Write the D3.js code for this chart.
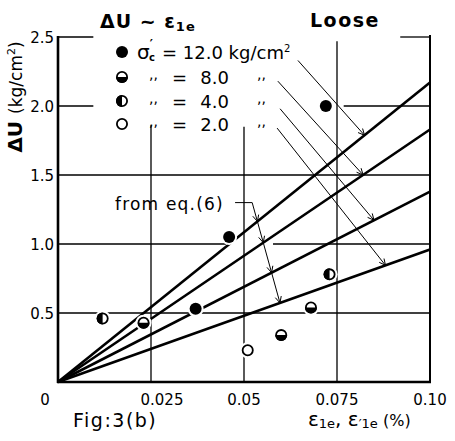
<!DOCTYPE html>
<html lang="en">
<head>
<meta charset="utf-8">
<title>Fig.3(b) ΔU ~ ε1e Loose</title>
<script src="https://d3js.org/d3.v7.min.js"></script>
<style>
body {
    margin: 0;
    background-color: #ffffff;
    font-family: "DejaVu Sans", sans-serif;
    color: #000000;
}
.grid line { stroke: #000; stroke-width: 1.3; }
.eqline { stroke: #000; stroke-width: 2.6; fill: none; }
.leader { stroke: #000; stroke-width: 1; fill: none; }
text { fill: #000; }
</style>
</head>
<body>
<svg width="455" height="441"></svg>
<script>

// confining pressure sigma'c (kg/cm2) for each symbol
var sigmaLevels = [12.0, 8.0, 4.0, 2.0];
var sigmaSymbols = ["full", "bottom", "left", "open"];

// measured points [strain %, dU kg/cm2]
var points12 = [[0.037, 0.53], [0.046, 1.05], [0.072, 2.0]];
var points8  = [[0.023, 0.43], [0.060, 0.34], [0.068, 0.54]];
var points4  = [[0.012, 0.46], [0.073, 0.78]];
var points2  = [[0.051, 0.23]];

// eq.(6) straight lines: dU reached at strain 0.10 for 12, 8, 4, 2 kg/cm2
var eqLineEnds = [2.17, 1.83, 1.38, 0.96];

var xTicks = [0.025, 0.05, 0.075, 0.10];
var xTickLabels = ["0.025", "0.05", "0.075", "0.10"];
var yTicks = [0.5, 1.0, 1.5, 2.0, 2.5];
var yTickLabels = ["0.5", "1.0", "1.5", "2.0", "2.5"];

var svg = d3.select("svg");

var x = d3.scaleLinear().domain([0, 0.1]).range([58, 430]);
var y = d3.scaleLinear().domain([0, 2.5]).range([382, 37]);

// grid pieces are broken where the legend and the points sit
var hGrid = [
  {v: 2.5, parts: [[0, 0.0095], [0.092, 0.1]]},
  {v: 2.0, parts: [[0, 0.0095], [0.0768, 0.1]]},
  {v: 1.5, parts: [[0, 0.1]]},
  {v: 1.0, parts: [[0, 0.0452], [0.0578, 0.1]]},
  {v: 0.5, parts: [[0, 0.1]]}
];
var vGrid = [
  {v: 0.025, top: 1.86},
  {v: 0.05, top: 1.85},
  {v: 0.075, top: 2.47},
  {v: 0.10, top: 2.515}
];

var grid = svg.append("g").attr("class", "grid");
hGrid.forEach(function(h) {
  h.parts.forEach(function(p) {
    grid.append("line")
      .attr("x1", x(p[0])).attr("x2", x(p[1]))
      .attr("y1", y(h.v)).attr("y2", y(h.v));
  });
});
vGrid.forEach(function(g) {
  grid.append("line")
    .attr("x1", x(g.v)).attr("x2", x(g.v))
    .attr("y1", y(0)).attr("y2", y(g.top))
    .style("stroke-width", g.v === 0.10 ? 2 : 1.3);
});

// axes (left and bottom heavy)
svg.append("line")
  .attr("x1", x(0)).attr("x2", x(0)).attr("y1", y(0) + 1).attr("y2", y(2.5) - 1)
  .attr("stroke", "#000").attr("stroke-width", 2.6);
svg.append("line")
  .attr("x1", x(0) - 1).attr("x2", x(0.1) + 1).attr("y1", y(0)).attr("y2", y(0))
  .attr("stroke", "#000").attr("stroke-width", 2.6);

// tick labels
svg.selectAll(".ytl").data(yTicks).enter().append("text")
  .attr("class", "ytl")
  .attr("x", 54).attr("y", function(d) { return y(d) + 1; })
  .attr("dy", "0.35em")
  .attr("text-anchor", "end")
  .style("font-size", "15px")
  .text(function(d, i) { return yTickLabels[i]; });

svg.selectAll(".xtl").data(xTicks).enter().append("text")
  .attr("class", "xtl")
  .attr("x", function(d, i) { return x(d) + (i === 0 ? 11 : 0); })
  .attr("y", 405)
  .attr("text-anchor", "middle")
  .style("font-size", "15px")
  .text(function(d, i) { return xTickLabels[i]; });

svg.append("text").attr("x", 45).attr("y", 405)
  .attr("text-anchor", "middle").style("font-size", "15px").text("0");

// eq.(6) lines
var eqLines = svg.append("g");
eqLineEnds.forEach(function(e) {
  eqLines.append("line").attr("class", "eqline")
    .attr("x1", x(0)).attr("y1", y(0))
    .attr("x2", x(0.1)).attr("y2", y(e));
});

// arrowhead helper (open V)
function arrowHead(g, px, py, ang) {
  var len = 7, spread = 0.45;
  [ang + Math.PI - spread, ang + Math.PI + spread].forEach(function(a) {
    g.append("line").attr("class", "leader")
      .attr("x1", px).attr("y1", py)
      .attr("x2", px + len * Math.cos(a)).attr("y2", py + len * Math.sin(a));
  });
}

// where the straight segment a->b (data units) meets eq line k
function meet(a, b, k) {
  var s = eqLineEnds[k] / 0.1;
  var dx = b[0] - a[0], dy = b[1] - a[1];
  var t = (s * a[0] - a[1]) / (dy - s * dx);
  return [a[0] + t * dx, a[1] + t * dy];
}

var leaders = svg.append("g");

// legend leaders: from legend rows to their own line
var legendStarts = [[0.0645, 2.33], [0.0591, 2.18], [0.0597, 1.98], [0.0589, 1.84]];
var legendDirs = [[0.0175, -0.53], [0.0226, -0.67], [0.025, -0.80], [0.029, -0.99]];
legendStarts.forEach(function(st, k) {
  var far = [st[0] + legendDirs[k][0], st[1] + legendDirs[k][1]];
  var end = meet(st, far, k);
  leaders.append("line").attr("class", "leader")
    .attr("x1", x(st[0])).attr("y1", y(st[1]))
    .attr("x2", x(end[0])).attr("y2", y(end[1]));
  var ang = Math.atan2(y(end[1]) - y(st[1]), x(end[0]) - x(st[0]));
  arrowHead(leaders, x(end[0]), y(end[1]), ang);
});

// "from eq.(6)" leader
var eqA = [0.0476, 1.30], eqB = [0.0522, 1.30], eqDir = [0.0597, 0.57];
var eqEnd = meet(eqB, eqDir, 3);
leaders.append("path").attr("class", "leader")
  .attr("d", d3.line()([[x(eqA[0]), y(eqA[1])], [x(eqB[0]), y(eqB[1])], [x(eqEnd[0]), y(eqEnd[1])]]));
var eqAng = Math.atan2(y(eqEnd[1]) - y(eqB[1]), x(eqEnd[0]) - x(eqB[0]));
[0, 1, 2, 3].forEach(function(k) {
  var p = meet(eqB, eqDir, k);
  arrowHead(leaders, x(p[0]), y(p[1]), eqAng);
});

svg.append("text").attr("x", 115).attr("y", 210)
  .style("font-size", "17px").style("letter-spacing", "1.2px").text("from eq.(6)");

// symbols
function drawSymbol(g, cx, cy, kind, r) {
  g.append("circle").attr("cx", cx).attr("cy", cy).attr("r", r + 2)
    .attr("fill", "#fff");
  if (kind === "full") {
    g.append("circle").attr("cx", cx).attr("cy", cy).attr("r", r).attr("fill", "#000");
    return;
  }
  g.append("circle").attr("cx", cx).attr("cy", cy).attr("r", r - 0.9)
    .attr("fill", "#fff").attr("stroke", "#000").attr("stroke-width", 1.8);
  if (kind === "bottom") {
    g.append("path").attr("fill", "#000")
      .attr("d", "M" + (cx - r) + "," + cy + " A" + r + "," + r + " 0 0 0 " + (cx + r) + "," + cy + " Z");
  } else if (kind === "left") {
    g.append("path").attr("fill", "#000")
      .attr("d", "M" + cx + "," + (cy - r) + " A" + r + "," + r + " 0 0 0 " + cx + "," + (cy + r) + " Z");
  }
}

var pts = svg.append("g");
[points12, points8, points4, points2].forEach(function(set, k) {
  set.forEach(function(p) {
    drawSymbol(pts, x(p[0]), y(p[1]), sigmaSymbols[k], 6);
  });
});

// legend
var legend = svg.append("g");
var rowY = [52, 77, 101, 124];
function ditto(px, py) {
  legend.append("text").attr("x", px).attr("y", py)
    .style("font-size", "14px").text(",,");
}
sigmaLevels.forEach(function(s, k) {
  drawSymbol(legend, 122, rowY[k], sigmaSymbols[k], 6);
  if (k === 0) {
    var t = legend.append("text").attr("x", 137).attr("y", rowY[k] + 7)
      .style("font-size", "20px");
    t.append("tspan").text("σ");
    t.append("tspan").attr("dy", -11).style("font-size", "12px").style("font-weight", "bold").text("′");
    t.append("tspan").attr("x", 149).attr("dy", 13).style("font-size", "10px").style("font-weight", "bold").text("c");
    t.append("tspan").attr("x", 162).attr("dy", -2).style("font-size", "18px")
      .text("= " + s.toFixed(1) + " kg/cm");
    t.append("tspan").attr("dy", -7).style("font-size", "10px").text("2");
  } else {
    ditto(149, rowY[k] + 2);
    legend.append("text").attr("x", 172).attr("y", rowY[k] + 7)
      .style("font-size", "18px").text("=");
    legend.append("text").attr("x", 229).attr("y", rowY[k] + 7)
      .attr("text-anchor", "end").style("font-size", "18px").text(s.toFixed(1));
    ditto(257, rowY[k] + 2);
  }
});

// titles
svg.append("text").attr("x", 100).attr("y", 28)
  .style("font-size", "19px").style("font-weight", "bold").style("letter-spacing", "1px")
  .text("ΔU ~ ε")
  .append("tspan").attr("dy", 3).style("font-size", "13px").text("1e");
svg.append("text").attr("x", 310).attr("y", 27)
  .style("font-size", "19px").style("font-weight", "bold").style("letter-spacing", "1.5px").text("Loose");

// y axis title
svg.append("text")
  .attr("transform", "translate(22,97) rotate(-90)")
  .attr("text-anchor", "middle")
  .style("font-size", "20px")
  .call(function(t) {
    t.append("tspan").style("font-weight", "bold").text("ΔU ");
    t.append("tspan").style("font-size", "17px").text("(kg/cm");
    t.append("tspan").attr("dy", -7).style("font-size", "11px").text("2");
    t.append("tspan").attr("dy", 7).style("font-size", "17px").text(")");
  });

// x axis title and figure number
svg.append("text").attr("x", 73).attr("y", 427)
  .style("font-size", "19px").style("letter-spacing", "1.5px").text("Fig:3(b)");
svg.append("text").attr("x", 308).attr("y", 426)
  .style("font-size", "20px")
  .call(function(t) {
    t.append("tspan").text("ε");
    t.append("tspan").attr("dy", 2).style("font-size", "13px").text("1e");
    t.append("tspan").attr("dy", -2).text(", ε");
    t.append("tspan").attr("dy", 2).style("font-size", "13px").text("′1e");
    t.append("tspan").attr("dy", -2).style("font-size", "16px").text(" (%)");
  });

</script>
</body>
</html>
